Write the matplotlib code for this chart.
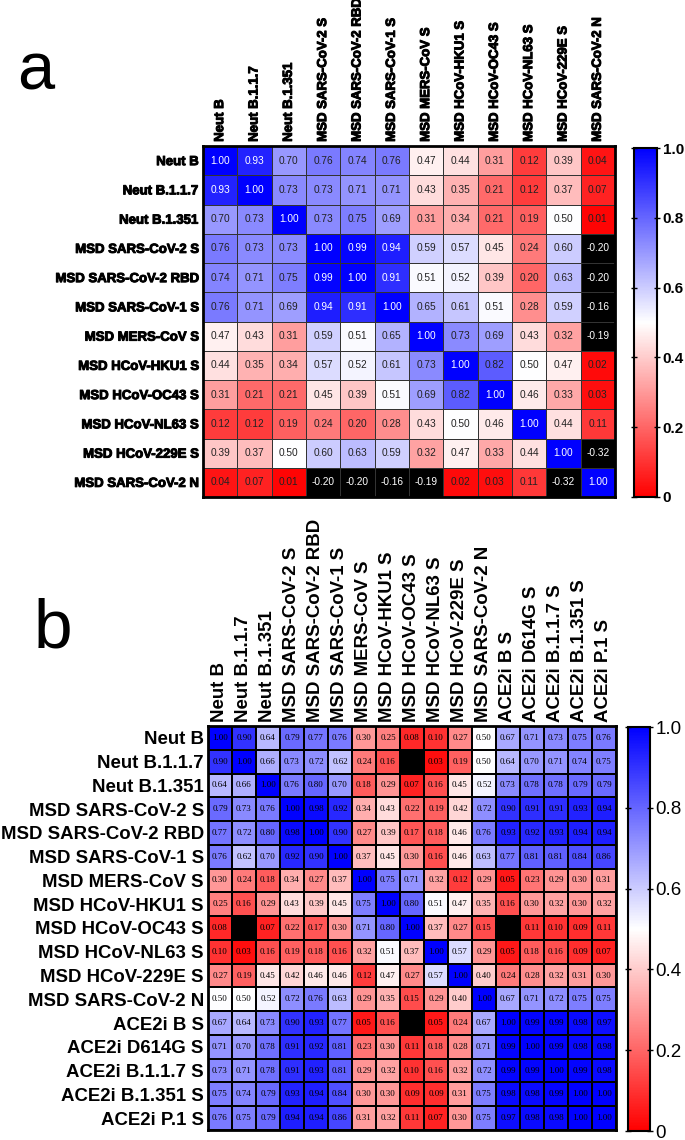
import matplotlib
matplotlib.use("Agg")
import numpy as np
import matplotlib.pyplot as plt
import matplotlib.patheffects as pe
from matplotlib.colors import LinearSegmentedColormap, Normalize

plt.rcParams["font.family"] = ["Liberation Sans", "DejaVu Sans"]

W, H = 685, 1140   # figure size in pixels (dpi 100)

# ---- panel a data ----
labels_a = ["Neut B", "Neut B.1.1.7", "Neut B.1.351", "MSD SARS-CoV-2 S",
            "MSD SARS-CoV-2 RBD", "MSD SARS-CoV-1 S", "MSD MERS-CoV S",
            "MSD HCoV-HKU1 S", "MSD HCoV-OC43 S", "MSD HCoV-NL63 S",
            "MSD HCoV-229E S", "MSD SARS-CoV-2 N"]
corr_a = [
    [1.00, 0.93, 0.70, 0.76, 0.74, 0.76, 0.47, 0.44, 0.31, 0.12, 0.39, 0.04],
    [0.93, 1.00, 0.73, 0.73, 0.71, 0.71, 0.43, 0.35, 0.21, 0.12, 0.37, 0.07],
    [0.70, 0.73, 1.00, 0.73, 0.75, 0.69, 0.31, 0.34, 0.21, 0.19, 0.50, 0.01],
    [0.76, 0.73, 0.73, 1.00, 0.99, 0.94, 0.59, 0.57, 0.45, 0.24, 0.60, -0.20],
    [0.74, 0.71, 0.75, 0.99, 1.00, 0.91, 0.51, 0.52, 0.39, 0.20, 0.63, -0.20],
    [0.76, 0.71, 0.69, 0.94, 0.91, 1.00, 0.65, 0.61, 0.51, 0.28, 0.59, -0.16],
    [0.47, 0.43, 0.31, 0.59, 0.51, 0.65, 1.00, 0.73, 0.69, 0.43, 0.32, -0.19],
    [0.44, 0.35, 0.34, 0.57, 0.52, 0.61, 0.73, 1.00, 0.82, 0.50, 0.47, 0.02],
    [0.31, 0.21, 0.21, 0.45, 0.39, 0.51, 0.69, 0.82, 1.00, 0.46, 0.33, 0.03],
    [0.12, 0.12, 0.19, 0.24, 0.20, 0.28, 0.43, 0.50, 0.46, 1.00, 0.44, 0.11],
    [0.39, 0.37, 0.50, 0.60, 0.63, 0.59, 0.32, 0.47, 0.33, 0.44, 1.00, -0.32],
    [0.04, 0.07, 0.01, -0.20, -0.20, -0.16, -0.19, 0.02, 0.03, 0.11, -0.32, 1.00],
]

# ---- panel b data (black cells are negative, value not readable) ----
labels_b = labels_a + ["ACE2i B S", "ACE2i D614G S", "ACE2i B.1.1.7 S",
                       "ACE2i B.1.351 S", "ACE2i P.1 S"]
corr_b = [
    [1.00, 0.90, 0.64, 0.79, 0.77, 0.76, 0.30, 0.25, 0.08, 0.10, 0.27, 0.50, 0.67, 0.71, 0.73, 0.75, 0.76],
    [0.90, 1.00, 0.66, 0.73, 0.72, 0.62, 0.24, 0.16, -0.05, 0.03, 0.19, 0.50, 0.64, 0.70, 0.71, 0.74, 0.75],
    [0.64, 0.66, 1.00, 0.76, 0.80, 0.70, 0.18, 0.29, 0.07, 0.16, 0.45, 0.52, 0.73, 0.78, 0.78, 0.79, 0.79],
    [0.79, 0.73, 0.76, 1.00, 0.98, 0.92, 0.34, 0.43, 0.22, 0.19, 0.42, 0.72, 0.90, 0.91, 0.91, 0.93, 0.94],
    [0.77, 0.72, 0.80, 0.98, 1.00, 0.90, 0.27, 0.39, 0.17, 0.18, 0.46, 0.76, 0.93, 0.92, 0.93, 0.94, 0.94],
    [0.76, 0.62, 0.70, 0.92, 0.90, 1.00, 0.37, 0.45, 0.30, 0.16, 0.46, 0.63, 0.77, 0.81, 0.81, 0.84, 0.86],
    [0.30, 0.24, 0.18, 0.34, 0.27, 0.37, 1.00, 0.75, 0.71, 0.32, 0.12, 0.29, 0.05, 0.23, 0.29, 0.30, 0.31],
    [0.25, 0.16, 0.29, 0.43, 0.39, 0.45, 0.75, 1.00, 0.80, 0.51, 0.47, 0.35, 0.16, 0.30, 0.32, 0.30, 0.32],
    [0.08, -0.05, 0.07, 0.22, 0.17, 0.30, 0.71, 0.80, 1.00, 0.37, 0.27, 0.15, -0.05, 0.11, 0.10, 0.09, 0.11],
    [0.10, 0.03, 0.16, 0.19, 0.18, 0.16, 0.32, 0.51, 0.37, 1.00, 0.57, 0.29, 0.05, 0.18, 0.16, 0.09, 0.07],
    [0.27, 0.19, 0.45, 0.42, 0.46, 0.46, 0.12, 0.47, 0.27, 0.57, 1.00, 0.40, 0.24, 0.28, 0.32, 0.31, 0.30],
    [0.50, 0.50, 0.52, 0.72, 0.76, 0.63, 0.29, 0.35, 0.15, 0.29, 0.40, 1.00, 0.67, 0.71, 0.72, 0.75, 0.75],
    [0.67, 0.64, 0.73, 0.90, 0.93, 0.77, 0.05, 0.16, -0.05, 0.05, 0.24, 0.67, 1.00, 0.99, 0.99, 0.98, 0.97],
    [0.71, 0.70, 0.78, 0.91, 0.92, 0.81, 0.23, 0.30, 0.11, 0.18, 0.28, 0.71, 0.99, 1.00, 0.99, 0.98, 0.98],
    [0.73, 0.71, 0.78, 0.91, 0.93, 0.81, 0.29, 0.32, 0.10, 0.16, 0.32, 0.72, 0.99, 0.99, 1.00, 0.99, 0.98],
    [0.75, 0.74, 0.79, 0.93, 0.94, 0.84, 0.30, 0.30, 0.09, 0.09, 0.31, 0.75, 0.98, 0.98, 0.99, 1.00, 1.00],
    [0.76, 0.75, 0.79, 0.94, 0.94, 0.86, 0.31, 0.32, 0.11, 0.07, 0.30, 0.75, 0.97, 0.98, 0.98, 1.00, 1.00],
]

cbar_ticks = [0, 0.2, 0.4, 0.6, 0.8, 1.0]
cbar_labels = ["0", "0.2", "0.4", "0.6", "0.8", "1.0"]


def rect(x0, y0, x1, y1):
    """pixel box (from top-left) -> figure fraction rect"""
    return [x0 / W, 1 - y1 / H, (x1 - x0) / W, (y1 - y0) / H]


cmap = LinearSegmentedColormap.from_list("rwb", ["#ff0000", "#ffffff", "#0000ff"])
cmap.set_under("black")
norm = Normalize(vmin=0, vmax=1)


def heatmap(ax, data, labels, edge, edge_lw, lab_kw, txt_kw, txt_color):
    data = np.asarray(data)
    n = len(labels)
    mesh = ax.pcolormesh(data, cmap=cmap, norm=norm, edgecolors=edge, linewidth=edge_lw)
    ax.set_xlim(0, n)
    ax.set_ylim(n, 0)
    ax.set_xticks(np.arange(n) + 0.5)
    ax.set_yticks(np.arange(n) + 0.5)
    ax.xaxis.tick_top()
    ax.set_xticklabels(labels, rotation=90, **lab_kw)
    ax.set_yticklabels(labels, **lab_kw)
    ax.tick_params(length=0, pad=3)
    for s in ax.spines.values():
        s.set_linewidth(2)
    for i in range(n):
        for j in range(n):
            v = data[i, j]
            ax.text(j + 0.5, i + 0.5, f"{v:.2f}", ha="center", va="center",
                    color=txt_color(v), **txt_kw)
    return mesh


def colorbar(fig, mesh, box, size, weight):
    cax = fig.add_axes(rect(*box))
    cb = fig.colorbar(mesh, cax=cax, ticks=cbar_ticks)
    cb.ax.set_yticklabels(cbar_labels, fontsize=size, fontweight=weight)
    cb.ax.tick_params(direction="inout", length=5, width=1, left=True, right=True, pad=1.5)
    cb.outline.set_linewidth(1.5)


fig = plt.figure(figsize=(W / 100, H / 100), dpi=100)

# ---- panel a ----
heavy = [pe.withStroke(linewidth=0.7, foreground="black")]
ax_a = fig.add_axes(rect(203, 146, 615, 497))
mesh_a = heatmap(ax_a, corr_a, labels_a, "#333333", 0.6,
                 dict(fontsize=9.5, fontweight="bold", path_effects=heavy),
                 dict(fontsize=7.3),
                 lambda v: "white" if (v >= 0.9 or v < 0) else "#222222")
colorbar(fig, mesh_a, (634, 148, 657, 497), 11, "bold")
fig.text(17 / W, 1 - 90 / H, "a", fontsize=48, ha="left", va="baseline")

# ---- panel b ----
ax_b = fig.add_axes(rect(208, 726, 616, 1130))
mesh_b = heatmap(ax_b, corr_b, labels_b, "black", 1.1,
                 dict(fontsize=13.4, fontweight="bold"),
                 dict(fontsize=6.5, family=["Liberation Serif", "DejaVu Serif"]),
                 lambda v: "black")
colorbar(fig, mesh_b, (628, 727, 650, 1131), 13.5, "normal")
fig.text(34 / W, 1 - 648 / H, "b", fontsize=50, ha="left", va="baseline")

fig.savefig("out.png", dpi=100)
